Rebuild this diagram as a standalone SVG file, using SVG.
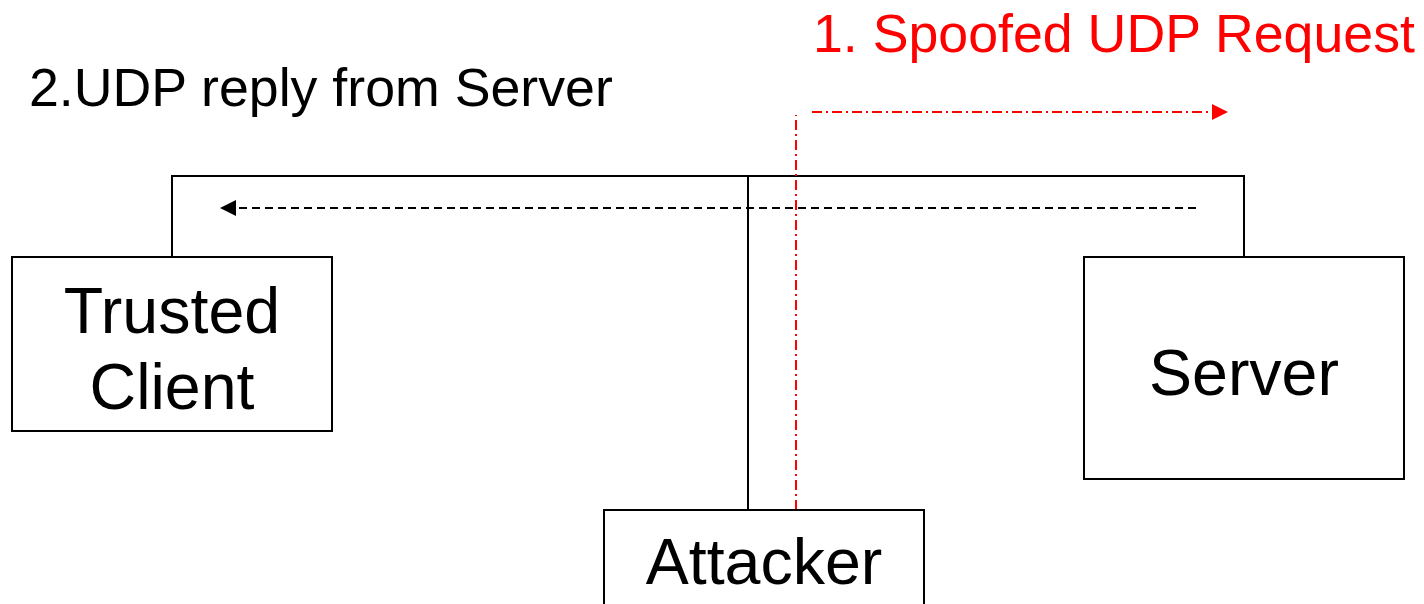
<svg xmlns="http://www.w3.org/2000/svg" width="1424" height="604" viewBox="0 0 1424 604">
<style>
.box{fill:#fff;stroke:#000;stroke-width:2}
.lbl{font-family:"Liberation Sans",Arial,sans-serif;font-size:64.5px;fill:#000;text-anchor:middle}
.cap{font-family:"Liberation Sans",Arial,sans-serif;font-size:53.7px}
.wire{fill:none;stroke:#000;stroke-width:2}
</style>
<rect width="1424" height="604" fill="#fff"/>
<g id="connectors">
<polyline class="wire" points="172,257 172,176 1244,176 1244,257"/>
<line class="wire" x1="748" y1="176" x2="748" y2="510"/>
<line x1="1196" y1="208" x2="236" y2="208" stroke="#000" stroke-width="2" stroke-dasharray="8 5"/>
<path d="M236,200 L220,208 L236,216 Z" fill="#000"/>
<line x1="796" y1="510" x2="796" y2="115" stroke="#f00" stroke-width="2" stroke-dasharray="10 4 2 4"/>
<line x1="812" y1="112" x2="1212" y2="112" stroke="#f00" stroke-width="2" stroke-dasharray="10 4 2 4"/>
<path d="M1212,104 L1228,112 L1212,120 Z" fill="#f00"/>
</g>
<g id="trusted-client">
<rect class="box" x="12" y="257" width="320" height="174"/>
<text class="lbl" x="172" y="333">Trusted</text>
<text class="lbl" x="172" y="409">Client</text>
</g>
<g id="server">
<rect class="box" x="1084" y="257" width="320" height="222"/>
<text class="lbl" x="1244" y="395">Server</text>
</g>
<g id="attacker">
<rect class="box" x="604" y="510" width="320" height="110"/>
<text class="lbl" x="764" y="584">Attacker</text>
</g>
<text class="cap" x="813" y="52" fill="#f00">1. Spoofed UDP Request</text>
<text class="cap" x="29" y="106" fill="#000">2.UDP reply from Server</text>
</svg>
